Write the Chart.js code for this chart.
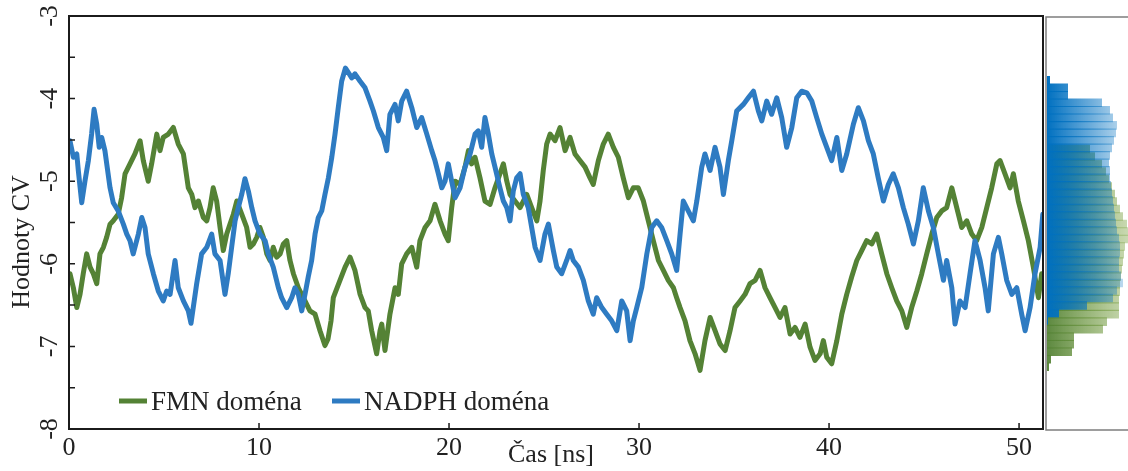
<!DOCTYPE html>
<html>
<head>
<meta charset="utf-8">
<script src="https://cdn.jsdelivr.net/npm/chart.js@4.4.1/dist/chart.umd.min.js"></script>
<style>
  html, body { margin: 0; padding: 0; background: #fff; overflow: hidden; }
  #wrap { position: relative; width: 1128px; height: 471px; }
  #main { position: absolute; left: 0; top: 0; }
  #hist { position: absolute; left: 1044px; top: 0; }
</style>
</head>
<body>
<div id="wrap">
  <canvas id="main" width="1045" height="471"></canvas>
  <canvas id="hist" width="84" height="471"></canvas>
</div>
<script>
// ---- data ----
const seriesNames = ['FMN doména', 'NADPH doména'];

const fmnTime = [0.05,0.23,0.41,0.58,0.75,0.93,1.11,1.28,1.46,1.63,1.81,1.98,2.16,2.33,2.59,2.77,2.95,3.21,3.47,3.74,3.91,4.17,4.35,4.62,4.79,4.96,5.23,5.49,5.75,6.02,6.28,6.46,6.63,6.81,7.07,7.25,7.42,7.59,7.77,7.95,8.12,8.30,8.47,8.65,8.83,9.09,9.35,9.53,9.70,9.88,10.05,10.23,10.41,10.58,10.75,10.93,11.11,11.28,11.46,11.63,11.81,12.07,12.42,12.68,12.95,13.21,13.47,13.63,13.79,13.91,14.26,14.53,14.79,15.05,15.32,15.58,15.75,15.93,16.19,16.37,16.46,16.63,16.89,17.16,17.33,17.51,17.77,18.04,18.30,18.47,18.74,19.00,19.26,19.53,19.79,19.96,20.14,20.32,20.58,20.84,21.02,21.19,21.37,21.63,21.89,22.16,22.42,22.68,22.86,23.04,23.21,23.47,23.74,24.09,24.35,24.62,24.79,24.96,25.14,25.32,25.58,25.84,26.11,26.37,26.63,26.89,27.16,27.42,27.59,27.86,28.12,28.38,28.65,28.91,29.17,29.44,29.70,29.96,30.23,30.49,30.75,31.02,31.28,31.54,31.81,31.98,32.16,32.42,32.68,32.95,33.21,33.47,33.74,34.00,34.26,34.53,34.79,35.05,35.32,35.58,35.84,36.11,36.37,36.63,36.89,37.16,37.42,37.68,37.95,38.21,38.47,38.74,39.00,39.26,39.53,39.70,39.88,40.14,40.41,40.67,40.93,41.19,41.46,41.72,41.98,42.25,42.51,42.77,43.04,43.30,43.56,43.83,44.09,44.35,44.62,44.88,45.14,45.41,45.67,45.93,46.19,46.46,46.72,46.98,47.25,47.51,47.77,48.04,48.30,48.56,48.83,49.00,49.26,49.53,49.70,49.96,50.23,50.49,50.75,51.02,51.19];
const fmnValues = [-6.12,-6.29,-6.53,-6.37,-6.12,-5.88,-6.04,-6.12,-6.24,-5.88,-5.80,-5.68,-5.52,-5.48,-5.40,-5.20,-4.91,-4.79,-4.67,-4.51,-4.75,-5.00,-4.79,-4.43,-4.63,-4.47,-4.43,-4.35,-4.55,-4.67,-5.08,-5.16,-5.32,-5.24,-5.44,-5.48,-5.32,-5.08,-5.24,-5.56,-5.84,-5.64,-5.52,-5.40,-5.24,-5.40,-5.56,-5.80,-5.76,-5.68,-5.56,-5.68,-5.88,-5.96,-5.80,-5.92,-5.88,-5.76,-5.72,-5.96,-6.12,-6.29,-6.45,-6.57,-6.61,-6.81,-6.99,-6.91,-6.69,-6.41,-6.20,-6.04,-5.92,-6.08,-6.37,-6.53,-6.57,-6.81,-7.09,-6.81,-6.73,-7.05,-6.61,-6.29,-6.37,-6.00,-5.88,-5.80,-6.04,-5.72,-5.56,-5.48,-5.28,-5.48,-5.64,-5.72,-5.32,-5.00,-5.04,-4.83,-4.63,-4.79,-4.71,-4.96,-5.24,-5.28,-5.08,-4.91,-4.79,-5.00,-5.16,-5.24,-5.32,-5.16,-5.32,-5.48,-5.24,-4.87,-4.55,-4.43,-4.51,-4.35,-4.63,-4.47,-4.67,-4.75,-4.83,-4.96,-5.04,-4.75,-4.55,-4.43,-4.59,-4.71,-4.96,-5.20,-5.08,-5.08,-5.24,-5.48,-5.72,-5.96,-6.08,-6.20,-6.29,-6.41,-6.53,-6.69,-6.93,-7.09,-7.29,-6.93,-6.65,-6.81,-6.97,-7.05,-6.81,-6.53,-6.45,-6.37,-6.24,-6.20,-6.08,-6.29,-6.41,-6.53,-6.65,-6.53,-6.85,-6.77,-6.89,-6.73,-7.01,-7.17,-7.09,-6.93,-7.13,-7.21,-6.93,-6.61,-6.37,-6.16,-5.96,-5.84,-5.72,-5.76,-5.64,-5.88,-6.12,-6.29,-6.45,-6.57,-6.77,-6.53,-6.33,-6.12,-5.88,-5.64,-5.44,-5.36,-5.32,-5.08,-5.32,-5.56,-5.48,-5.64,-5.72,-5.56,-5.32,-5.08,-4.79,-4.75,-4.91,-5.08,-4.91,-5.24,-5.48,-5.72,-6.04,-6.41,-6.12];

const nadphTime = [0.05,0.23,0.41,0.49,0.67,0.84,1.02,1.19,1.32,1.46,1.59,1.72,1.89,2.16,2.33,2.59,2.86,3.04,3.21,3.38,3.65,3.83,4.00,4.17,4.44,4.70,4.96,5.14,5.32,5.58,5.75,6.02,6.28,6.42,6.72,6.98,7.25,7.51,7.68,7.95,8.21,8.38,8.56,8.74,8.91,9.09,9.26,9.44,9.62,9.79,10.05,10.32,10.49,10.75,11.02,11.19,11.46,11.72,11.89,12.07,12.25,12.42,12.59,12.77,12.95,13.12,13.30,13.47,13.65,13.83,14.00,14.17,14.35,14.55,14.88,15.05,15.32,15.58,15.84,16.02,16.28,16.54,16.72,16.89,17.16,17.33,17.51,17.77,18.04,18.30,18.56,18.83,19.09,19.26,19.44,19.62,19.79,19.96,20.14,20.32,20.58,20.84,21.11,21.37,21.54,21.72,21.89,22.07,22.25,22.42,22.68,22.86,23.04,23.21,23.38,23.56,23.74,23.91,24.17,24.35,24.53,24.79,25.05,25.23,25.49,25.67,25.93,26.19,26.37,26.54,26.81,27.07,27.33,27.59,27.77,28.04,28.30,28.56,28.83,29.09,29.35,29.53,29.70,29.88,30.14,30.41,30.67,30.93,31.19,31.46,31.72,31.98,32.16,32.33,32.59,32.86,33.04,33.30,33.47,33.74,34.00,34.26,34.44,34.70,34.88,35.14,35.49,35.75,36.02,36.28,36.46,36.72,36.98,37.25,37.51,37.77,38.04,38.30,38.56,38.83,39.09,39.35,39.62,39.88,40.14,40.41,40.67,40.93,41.28,41.54,41.81,42.07,42.33,42.59,42.86,43.12,43.38,43.65,43.91,44.17,44.44,44.70,44.96,45.23,45.49,45.75,46.02,46.19,46.46,46.63,46.89,47.16,47.42,47.68,47.95,48.21,48.38,48.65,48.91,49.09,49.35,49.62,49.88,50.14,50.32,50.58,50.84,51.11,51.25];
const nadphValues = [-4.51,-4.71,-4.67,-4.87,-5.26,-5.00,-4.75,-4.43,-4.13,-4.31,-4.59,-4.47,-4.63,-5.08,-5.26,-5.36,-5.52,-5.64,-5.72,-5.88,-5.64,-5.44,-5.56,-5.88,-6.12,-6.33,-6.45,-6.33,-6.37,-5.96,-6.29,-6.45,-6.57,-6.72,-6.24,-5.88,-5.80,-5.64,-5.88,-5.96,-6.37,-6.12,-5.80,-5.48,-5.32,-5.16,-4.97,-5.12,-5.32,-5.48,-5.64,-5.72,-5.88,-6.04,-6.29,-6.41,-6.53,-6.41,-6.29,-6.37,-6.57,-6.37,-6.16,-5.96,-5.64,-5.44,-5.36,-5.16,-4.96,-4.71,-4.43,-4.11,-3.79,-3.63,-3.75,-3.70,-3.79,-3.87,-4.03,-4.15,-4.35,-4.47,-4.63,-4.19,-4.07,-4.27,-4.03,-3.91,-4.11,-4.35,-4.23,-4.43,-4.63,-4.75,-4.91,-5.08,-5.00,-4.79,-5.00,-5.20,-5.08,-4.83,-4.67,-4.43,-4.39,-4.59,-4.23,-4.43,-4.67,-4.83,-5.08,-5.24,-5.32,-5.48,-5.12,-4.96,-4.91,-5.16,-5.32,-5.56,-5.80,-5.96,-5.64,-5.52,-5.84,-6.04,-6.12,-5.96,-5.84,-5.96,-6.04,-6.20,-6.45,-6.61,-6.41,-6.53,-6.61,-6.69,-6.81,-6.45,-6.57,-6.93,-6.69,-6.53,-6.29,-5.88,-5.56,-5.48,-5.56,-5.72,-5.88,-6.08,-5.64,-5.24,-5.36,-5.48,-5.24,-4.83,-4.67,-4.87,-4.59,-4.83,-5.16,-4.75,-4.51,-4.15,-4.07,-3.99,-3.91,-4.15,-4.27,-4.03,-4.19,-3.99,-4.23,-4.59,-4.35,-3.99,-3.91,-3.93,-4.03,-4.23,-4.43,-4.59,-4.75,-4.47,-4.87,-4.67,-4.31,-4.11,-4.27,-4.51,-4.67,-4.96,-5.24,-5.04,-4.91,-5.08,-5.32,-5.52,-5.76,-5.48,-5.08,-5.36,-5.56,-5.88,-6.20,-5.96,-6.29,-6.73,-6.45,-6.53,-6.12,-5.72,-5.96,-6.29,-6.57,-5.88,-5.68,-5.88,-6.20,-6.37,-6.29,-6.61,-6.81,-6.53,-6.12,-5.80,-5.40];

// histogram of CV values (bin centres, bar lengths)
const histBins = [-3.65,-3.75,-3.85,-3.95,-4.05,-4.15,-4.25,-4.35,-4.45,-4.55,-4.65,-4.75,-4.85,-4.95,-5.05,-5.15,-5.25,-5.35,-5.45,-5.55,-5.65,-5.75,-5.85,-5.95,-6.05,-6.15,-6.25,-6.35,-6.45,-6.55,-6.65,-6.75,-6.85,-6.95,-7.05,-7.15,-7.25,-7.35];
const nadphHist = [3,21,21,55,63,66,70,69,67,65,63,62,63,63,64,65,66,67,68,69,70,72,73,73,72,72,74,76,70,66,40,12,1,0,0,0,0,0];
const fmnHist = [0,0,0,0,0,0,0,0,43,48,55,59,62,65,68,70,73,76,80,84,85,78,77,76,75,74,73,73,72,72,72,60,56,27,27,25,4,2];

const xTickLabels = [0, 10, 20, 30, 40, 50];
const yTickLabels = [-8, -7, -6, -5, -4, -3];
const yTickMarks = [-7.5, -7, -6.5, -6, -5.5, -5, -4.5, -4, -3.5];

// ---- styling ----
const serif = "'Liberation Serif', 'Times New Roman', serif";
const green = '#548235';
const blue = '#2e7bc2';
const ink = '#222';

const pts = (t, v) => t.map((x, i) => ({ x: x, y: v[i] }));

const framePlugin = {
  id: 'frame',
  afterDatasetsDraw(chart) {
    const { ctx, chartArea: a, scales } = chart;
    ctx.save();
    ctx.strokeStyle = '#1b1b1b';
    ctx.lineWidth = 2;
    ctx.strokeRect(a.left, a.top, a.right - a.left, a.bottom - a.top);

    ctx.lineWidth = 1.5;
    ctx.beginPath();
    yTickMarks.forEach(v => {
      const y = scales.y.getPixelForValue(v);
      ctx.moveTo(a.left, y);
      ctx.lineTo(a.left + 6, y);
    });
    xTickLabels.forEach(v => {
      if (v === 0) return;
      const x = scales.x.getPixelForValue(v);
      ctx.moveTo(x, a.bottom);
      ctx.lineTo(x, a.bottom - 6);
    });
    ctx.stroke();

    ctx.fillStyle = ink;
    ctx.font = '26px ' + serif;
    ctx.textAlign = 'center';
    ctx.textBaseline = 'middle';
    yTickLabels.forEach(v => {
      const y = scales.y.getPixelForValue(v);
      ctx.save();
      ctx.translate(50, y);
      ctx.rotate(-Math.PI / 2);
      ctx.fillText(String(v), 0, 0);
      ctx.restore();
    });

    // axis titles
    ctx.save();
    ctx.translate(22, 242);
    ctx.rotate(-Math.PI / 2);
    ctx.fillText('Hodnoty CV', 0, 0);
    ctx.restore();
    ctx.fillText('Čas [ns]', 551, 455);

    // legend inside the plot
    const legendX = [119, 332];
    const legendY = 401;
    ctx.textAlign = 'left';
    ctx.font = '27px ' + serif;
    chart.data.datasets.forEach((ds, i) => {
      ctx.strokeStyle = ds.borderColor;
      ctx.lineWidth = 5;
      ctx.beginPath();
      ctx.moveTo(legendX[i], legendY);
      ctx.lineTo(legendX[i] + 28, legendY);
      ctx.stroke();
      ctx.fillText(ds.label, legendX[i] + 32, legendY + 2);
    });
    ctx.restore();
  }
};

new Chart(document.getElementById('main'), {
  type: 'line',
  data: {
    datasets: [
      { label: seriesNames[0], data: pts(fmnTime, fmnValues), borderColor: green, borderWidth: 5, order: 1 },
      { label: seriesNames[1], data: pts(nadphTime, nadphValues), borderColor: blue, borderWidth: 5, order: 0 }
    ]
  },
  options: {
    responsive: false,
    animation: false,
    layout: { padding: { top: 16, right: 2, left: 0, bottom: 0 } },
    elements: { point: { radius: 0 }, line: { tension: 0, borderCapStyle: 'round', borderJoinStyle: 'round' } },
    plugins: { legend: { display: false }, tooltip: { enabled: false } },
    scales: {
      x: {
        type: 'linear', min: 0, max: 51.26,
        grid: { display: false, drawTicks: false }, border: { display: false },
        afterBuildTicks: s => { s.ticks = xTickLabels.map(v => ({ value: v })); },
        afterFit: s => { s.height = 42; },
        ticks: { color: ink, font: { family: serif, size: 26 }, padding: 4, maxRotation: 0, autoSkip: false }
      },
      y: {
        type: 'linear', min: -8, max: -3,
        grid: { display: false }, border: { display: false },
        ticks: { display: false },
        afterFit: s => { s.width = 69; }
      }
    }
  },
  plugins: [framePlugin]
});

// ---- side histogram ----
function fade(from, to) {
  return c => {
    const a = c.chart.chartArea;
    if (!a) return from;
    const g = c.chart.ctx.createLinearGradient(a.left, 0, a.right, 0);
    g.addColorStop(0, from);
    g.addColorStop(1, to);
    return g;
  };
}

const panelPlugin = {
  id: 'panel',
  afterDraw(chart) {
    const { ctx, chartArea: a } = chart;
    ctx.save();
    ctx.strokeStyle = '#7d7d7d';
    ctx.lineWidth = 1.5;
    ctx.beginPath();
    ctx.moveTo(chart.width, a.top);
    ctx.lineTo(a.left - 1, a.top);
    ctx.lineTo(a.left - 1, a.bottom);
    ctx.lineTo(chart.width, a.bottom);
    ctx.stroke();
    ctx.restore();
  }
};

// each histogram gets its own (hidden, identical) value axis so the bars overlap instead of sharing a bin
const barStyle = { barThickness: 8.6, borderWidth: 0, inflateAmount: 0 };

new Chart(document.getElementById('hist'), {
  type: 'bar',
  data: {
    datasets: [
      Object.assign({ label: seriesNames[1], data: histBins.map((b, i) => ({ y: b, x: nadphHist[i] })), yAxisID: 'yB',
        backgroundColor: fade('rgba(0,112,192,1)', 'rgba(0,112,192,0.22)'), order: 0 }, barStyle),
      Object.assign({ label: seriesNames[0], data: histBins.map((b, i) => ({ y: b, x: fmnHist[i] })), yAxisID: 'yG',
        backgroundColor: fade('rgba(84,130,53,0.95)', 'rgba(120,160,60,0.4)'), order: 1 }, barStyle)
    ]
  },
  options: {
    indexAxis: 'y',
    responsive: false,
    animation: false,
    layout: { padding: { top: 17, bottom: 41, left: 3, right: 0 } },
    plugins: { legend: { display: false }, tooltip: { enabled: false } },
    scales: {
      x: { type: 'linear', min: 0, max: 81, display: false },
      yB: { type: 'linear', axis: 'y', min: -8, max: -3, display: false },
      yG: { type: 'linear', axis: 'y', min: -8, max: -3, display: false }
    }
  },
  plugins: [panelPlugin]
});
</script>
</body>
</html>
